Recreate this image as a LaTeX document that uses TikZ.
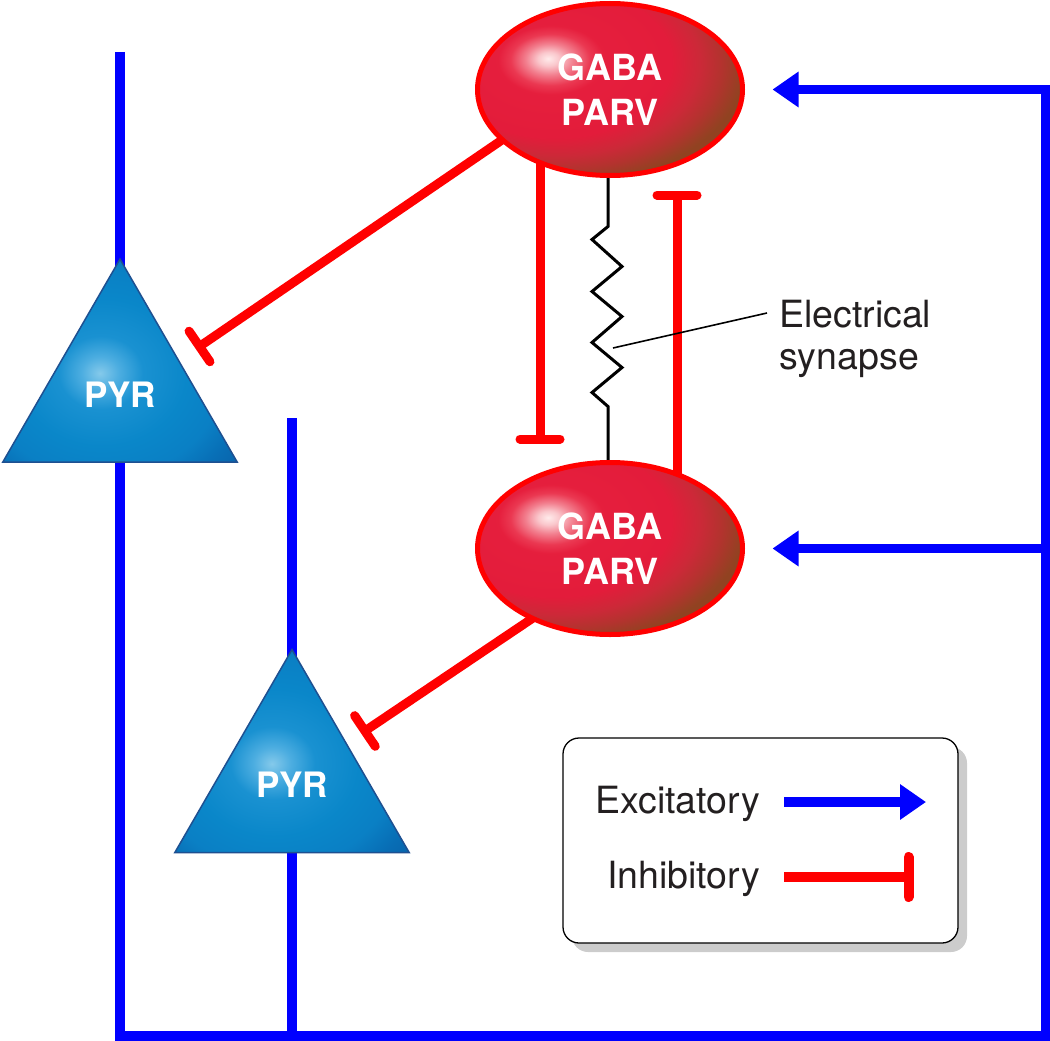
\documentclass[tikz,border=0pt]{standalone}
\usepackage{fontspec}
\setmainfont{TeX Gyre Heros}
\usetikzlibrary{arrows.meta,shapes.geometric,shadows,calc}
\pgfdeclarelayer{back}
\pgfsetlayers{back,main}
% the path bounding box maps to the central 50bp x 50bp of a shading
\pgfdeclareradialshading{gabashade}{\pgfpoint{-11.7bp}{9bp}}{%
 rgb(0bp)=(1,0.92,0.92);
 rgb(2bp)=(0.98,0.78,0.8);
 rgb(4.5bp)=(0.95,0.5,0.56);
 rgb(7.5bp)=(0.92,0.22,0.32);
 rgb(10bp)=(0.9,0.12,0.24);
 rgb(22bp)=(0.89,0.11,0.23);
 rgb(27bp)=(0.8,0.16,0.22);
 rgb(31bp)=(0.7,0.2,0.18);
 rgb(35bp)=(0.57,0.26,0.13);
 rgb(200bp)=(0.57,0.26,0.13)}
\pgfdeclareradialshading{pyrshade}{\pgfpoint{-4.3bp}{-3.1bp}}{%
 rgb(0bp)=(0.52,0.79,0.92);
 rgb(4bp)=(0.3,0.68,0.88);
 rgb(9bp)=(0.1,0.57,0.82);
 rgb(18bp)=(0.04,0.53,0.79);
 rgb(26bp)=(0.04,0.5,0.77);
 rgb(32bp)=(0.03,0.43,0.71);
 rgb(38bp)=(0.03,0.38,0.66);
 rgb(200bp)=(0.03,0.38,0.66)}
\definecolor{excblue}{RGB}{0,0,255}
\definecolor{inhred}{RGB}{255,0,0}
\definecolor{pyredge}{RGB}{30,80,145}
\definecolor{txt}{RGB}{35,31,32}
\begin{document}
\begin{tikzpicture}[x=1pt,y=-1pt,
  gaba/.style={ellipse, draw=inhred, line width=5pt, shade, shading=gabashade,
    minimum width=265pt, minimum height=172pt, inner sep=0pt, outer sep=0pt,
    text=white, font=\fontsize{36}{45}\selectfont\bfseries, align=center},
  pyr/.style={regular polygon, regular polygon sides=3, minimum size=270.8pt,
    inner sep=0pt, outer sep=0pt, draw=pyredge, line width=1.5pt, shade, shading=pyrshade,
    text=white, font=\fontsize{35}{42}\selectfont\bfseries},
  exc/.style={draw=excblue, line width=9.5pt, line join=miter},
  exctip/.style={exc, -{Triangle[length=26pt,width=34pt]}},
  inh/.style={draw=inhred, line width=9pt, -{Bar[width=#1,round]}},
  inh/.default=40pt,
  txtlabel/.style={font=\fontsize{37.5}{42}\selectfont, text=txt, inner sep=0pt},
  legendbox/.style={draw=black, line width=1.3pt, rounded corners=16pt, fill=white,
    minimum width=395pt, minimum height=205pt,
    drop shadow={shadow xshift=9pt, shadow yshift=-9pt, fill=black!20, opacity=1}},
  wire/.style={draw=black, line width=3pt, line join=miter},
  pointer/.style={draw=black, line width=1.6pt}
]
\useasboundingbox (0,0) rectangle (1050,1041);

% cells
\node[gaba] (g1) at (610,89.5) {GABA\\PARV};
\node[gaba] (g2) at (610,548.5) {GABA\\PARV};
\node[pyr] (p1) at (120,394.5) {PYR};
\node[pyr] (p2) at (292,785) {PYR};

% label
\node[txtlabel, anchor=west, align=left] (es) at (779,339) {Electrical\\synapse};

\begin{pgfonlayer}{back}
  % excitatory wiring
  \coordinate (d1) at (120,52);
  \coordinate (c1) at (120,1036);
  \coordinate (d2) at (292,418);
  \coordinate (c3) at (1045.5,1036);
  \coordinate (c4) at (1045.5,89.5);
  \coordinate (c5) at (1045.5,548.5);
  \draw[exctip] (d1) -- (c1) -- (c3) -- (c4) -- ([xshift=30pt]g1.east);
  \draw[exctip] (c5) -- ([xshift=30pt]g2.east);
  \draw[exc] (d2) -- (d2 |- c1);
  % inhibitory
  \coordinate (t1) at (195.8,349);
  \coordinate (t2) at (361.2,733.5);
  \coordinate (t3) at (540,443.5);
  \coordinate (t4) at (677,190.5);
  \draw[inh=37pt] (g1.205.7) -- (t1);
  \draw[inh=37pt] (g2.222.9) -- (t2);
  \draw[inh] (g1.center -| t3) -- (t3);
  \draw[inh] (g2.center -| t4) -- (t4);
  % electrical synapse
  \draw[wire] ([xshift=-2pt]g1.south) -- ++(0,51) -- ++(-16,13) -- ++(30,27) -- ++(-30,25)
     -- ++(30,25) -- ++(-30,26) -- ++(30,25) -- ++(-30,25) -- ++(16,14) -- ([xshift=-2pt]g2.north);
  \coordinate (zp) at (613,348);
  \coordinate (lp) at (767,313);
  \draw[pointer] (zp) -- (lp);
\end{pgfonlayer}

% legend
\node[legendbox] (lg) at (760.5,840.5) {};
\node[txtlabel, anchor=base east] (le) at (760,813) {Excitatory};
\node[txtlabel, anchor=base east] (li) at (760,888) {Inhibitory};
\coordinate (ea) at (784,802);
\coordinate (eb) at (926,802);
\coordinate (ia) at (784,877);
\coordinate (ib) at (913.5,877);
\draw[exctip, line width=10pt] (ea) -- (eb);
\draw[inh, line width=10pt] (ia) -- (ib);
\end{tikzpicture}
\end{document}
